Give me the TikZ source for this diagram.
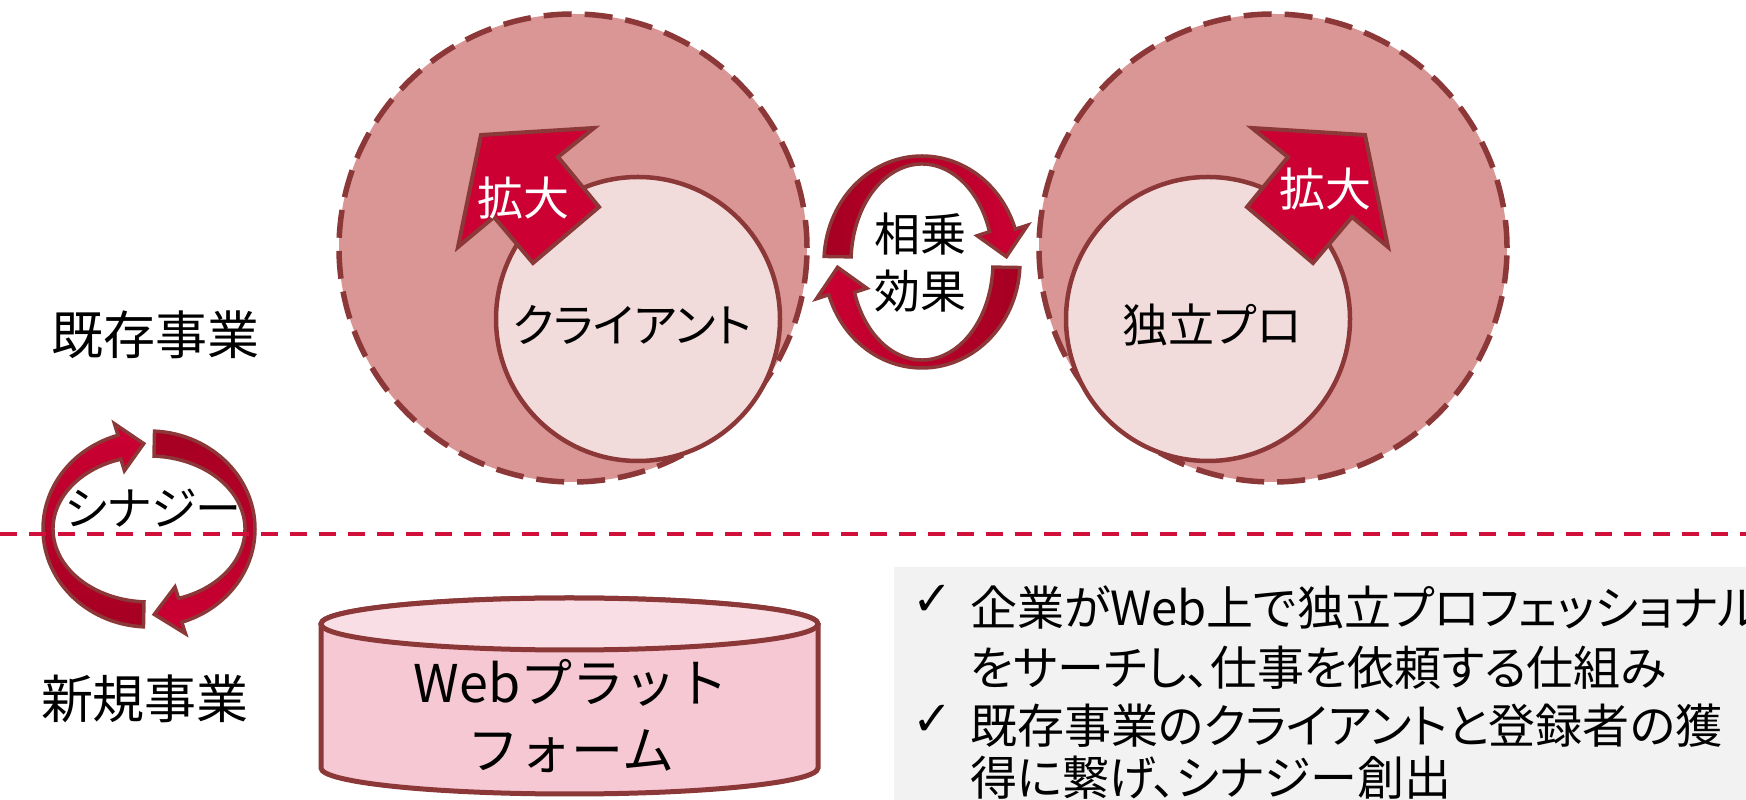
\documentclass[tikz,border=0pt]{standalone}
\usepackage{fontspec}
\newfontfamily\jp{Noto Sans CJK JP}
\newfontfamily\jpp{Noto Sans CJK JP}[RawFeature=+palt]
\newfontfamily\djv{DejaVu Sans}
\definecolor{outl}{RGB}{140,56,56}
\definecolor{crimson}{RGB}{204,0,51}
\definecolor{darkcrim}{RGB}{165,0,33}
\definecolor{bigfill}{RGB}{217,150,148}
\definecolor{innerfill}{RGB}{242,220,219}
\definecolor{cylbody}{RGB}{245,200,212}
\definecolor{cyltop}{RGB}{249,223,229}
\definecolor{dashred}{RGB}{208,16,58}
\definecolor{boxgray}{RGB}{242,242,242}
\begin{document}
\begin{tikzpicture}[x=1pt,y=1pt,
  bigc/.style={fill=bigfill, draw=outl, line width=5.5pt, dash pattern=on 28pt off 13pt},
  innerc/.style={fill=innerfill, draw=outl, line width=4.5pt},
  blockarr/.style={fill=crimson, draw=outl, line width=4pt, line join=miter},
  cyc/.style={draw=outl, line width=3.5pt, line join=miter},
  lbl/.style={inner sep=0pt, anchor=base},
  bul/.style={inner sep=0pt, anchor=base west, font=\jpp\fontsize{47}{52}\selectfont},
  chk/.style={inner sep=0pt, anchor=base, font=\djv\fontsize{48}{52}\selectfont},
]
\useasboundingbox (0,0) rectangle (1746,800);
\fill[white] (0,0) rectangle (1746,800);

% gray box
\fill[boxgray] (894,0) rectangle (1746,233);

% circles
\path[bigc] (573,552) circle[radius=234pt];
\path[bigc] (1273,552) circle[radius=234pt];
\path[innerc] (638,481) circle[radius=142pt];
\path[innerc] (1208,481) circle[radius=142pt];

% expansion arrows
\path[blockarr] (481,665) -- (594,672) -- (558,643) -- (599,593) -- (533,537) -- (494,583) -- (458,553) -- cycle;
\path[blockarr] (1365,665) -- (1252,672) -- (1288,643) -- (1247,593) -- (1313,537) -- (1352,583) -- (1388,553) -- cycle;

\node[lbl, text=white, font=\jp\fontsize{46}{50}\selectfont] (kl) at (523,584.5) {拡大};
\node[lbl, text=white, font=\jp\fontsize{46}{50}\selectfont] (kr) at (1325,593.5) {拡大};
\node[lbl, font=\jpp\fontsize{46}{52}\selectfont] (cl) at (632,457.5) {クライアント};
\node[lbl, font=\jpp\fontsize{46}{52}\selectfont] (pr) at (1212,457.5) {独立プロ};

% middle cycle
\begin{scope}[shift={(922,538)}]
\path[cyc, left color=darkcrim, right color=crimson]
  (177:98pt and 106pt) arc[start angle=177, end angle=18, x radius=98pt, y radius=106pt]
  -- (18:111pt and 119pt) -- (3:84.5pt and 102pt) -- (18:58pt and 85pt)
  -- (18:71pt and 98pt) arc[start angle=18, end angle=177, x radius=71pt, y radius=98pt] -- cycle;
\path[cyc, left color=crimson, right color=darkcrim]
  (-3:98pt and 106pt) arc[start angle=-3, end angle=-162, x radius=98pt, y radius=106pt]
  -- (-162:111pt and 119pt) -- (-177:84.5pt and 102pt) -- (-162:58pt and 85pt)
  -- (-162:71pt and 98pt) arc[start angle=-162, end angle=-3, x radius=71pt, y radius=98pt] -- cycle;
\end{scope}
\node[lbl, font=\jp\fontsize{46}{50}\selectfont] (s1) at (920,548.5) {相乗};
\node[lbl, font=\jp\fontsize{46}{50}\selectfont] (s2) at (920,491.5) {効果};

% synergy cycle
\begin{scope}[shift={(149,271)}]
\path[cyc, bottom color=darkcrim, top color=crimson]
  (267:106pt and 98pt) arc[start angle=267, end angle=107, x radius=106pt, y radius=98pt]
  -- (107:118pt and 110pt) -- (93:101pt and 85.5pt) -- (107:84pt and 61pt)
  -- (107:96pt and 73pt) arc[start angle=107, end angle=267, x radius=96pt, y radius=73pt] -- cycle;
\path[cyc, top color=darkcrim, bottom color=crimson]
  (87:106pt and 98pt) arc[start angle=87, end angle=-72, x radius=106pt, y radius=98pt]
  -- (-72:118pt and 110pt) -- (-87:101pt and 85.5pt) -- (-72:84pt and 61pt)
  -- (-72:96pt and 73pt) arc[start angle=-72, end angle=87, x radius=96pt, y radius=73pt] -- cycle;
\end{scope}

% divider
\draw[dashred, line width=4pt, dash pattern=on 17pt off 12pt] (0,266) coordinate (dl) -- (1746,266) coordinate (dr);

\node[lbl, font=\jpp\fontsize{46}{52}\selectfont] (syn) at (153,274.5) {シナジー};
\node[lbl, font=\jp\fontsize{52}{60}\selectfont] (kizon) at (155,445.2) {既存事業};
\node[lbl, font=\jp\fontsize{52}{60}\selectfont] (shinki) at (145,81.2) {新規事業};

% cylinder
\path[fill=cylbody, draw=outl, line width=5pt] (321,176) -- (321,32)
  arc[start angle=180, end angle=360, x radius=248.5pt, y radius=26pt] -- (818,176)
  arc[start angle=0, end angle=180, x radius=248.5pt, y radius=26pt] -- cycle;
\path[fill=cyltop, draw=outl, line width=5pt] (569.5,176) ellipse[x radius=248.5pt, y radius=26pt];
\node[lbl, font=\jp\fontsize{52}{60}\selectfont] (w1) at (571,97.2) {Webプラット};
\node[lbl, font=\jp\fontsize{52}{60}\selectfont] (w2) at (571,30.2) {フォーム};

% bullets
\node[chk] (c1) at (933,184) {✓};
\node[chk] (c2) at (933,64) {✓};
\node[bul] (l1) at (970,174.5) {企業がWeb上で独立プロフェッショナル};
\node[bul] (l2) at (970,114.5) {をサーチし、仕事を依頼する仕組み};
\node[bul] (l3) at (970,56.5) {既存事業のクライアントと登録者の獲};
\node[bul] (l4) at (970,4.5) {得に繋げ、シナジー創出};
\end{tikzpicture}
\end{document}
